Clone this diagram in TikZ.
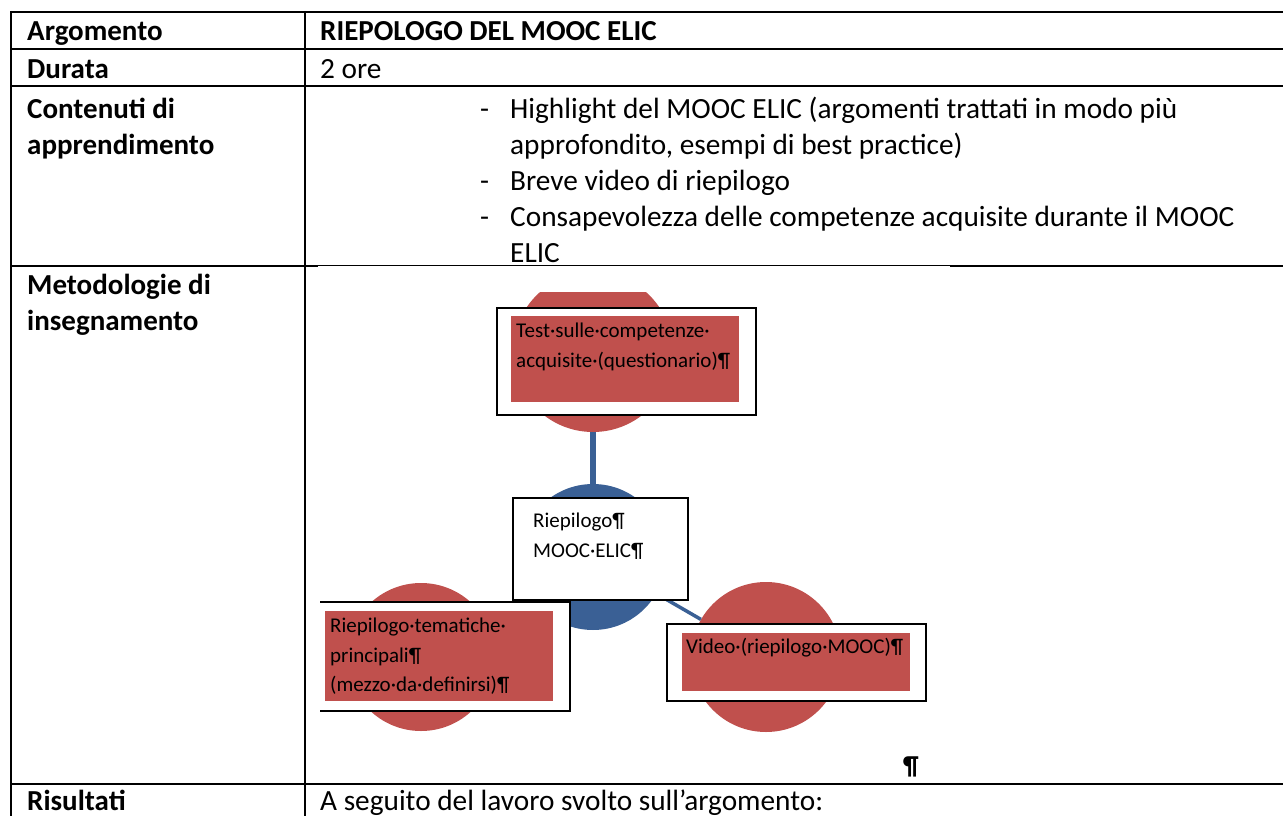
\documentclass[tikz,border=0pt]{standalone}
\usepackage{fontspec}
\setmainfont{Carlito}
\definecolor{accred}{HTML}{C0504D}
\definecolor{accblue}{HTML}{3A6095}
\begin{document}
\begin{tikzpicture}[x=1pt,y=-1pt,
  rule/.style={line width=2.2pt},
  cell/.style={anchor=base west, inner sep=0pt, font=\fontsize{29.3}{36}\selectfont},
  head/.style={anchor=base west, inner sep=0pt, font=\fontsize{29}{36}\selectfont\bfseries},
  bubble/.style={circle, fill=accred, inner sep=0pt, minimum size=150pt},
  hub/.style={circle, fill=accblue, inner sep=0pt, minimum size=146pt},
  link/.style={draw=accblue, line width=6.5pt},
  thinlink/.style={draw=accblue, line width=3.5pt},
  frame/.style={draw=black, line width=2pt, fill=white, inner sep=0pt, anchor=north west},
  patch/.style={fill=accred, inner sep=0pt, anchor=north west},
  dia/.style={anchor=base west, inner sep=0pt, font=\fontsize{21}{30}\selectfont, text=black},
]
\useasboundingbox (0,0) rectangle (1283,816);

% ---------- table rules ----------
\draw[rule] (11,12) -- (1283,12);
\draw[rule] (11,49) -- (1283,49);
\draw[rule] (11,86) -- (1283,86);
\draw[rule] (11,266) -- (318,266);
\draw[line width=1.4pt] (318,265.5) -- (950,265.5);
\draw[rule] (950,266) -- (1283,266);
\draw[rule] (11,784) -- (1283,784);
\draw[rule] (11,11) -- (11,816);
\draw[rule] (305,11) -- (305,816);

% ---------- left column ----------
\node[head] (hArg) at (27,41) {Argomento};
\node[head] (hDur) at (27,78) {Durata};
\node[head] (hCon1) at (27,118) {Contenuti di};
\node[head] (hCon2) at (27,154) {apprendimento};
\node[head] (hMet1) at (27,294) {Metodologie di};
\node[head] (hMet2) at (27,330) {insegnamento};
\node[head] (hRis) at (27,810) {Risultati};

% ---------- right column ----------
\node[head] (vArg) at (320,41) {RIEPOLOGO DEL MOOC ELIC};
\node[cell] (vDur) at (320,78) {2 ore};
\node[cell] (d1) at (480,118) {-};
\node[cell] (l1) at (510,118) {Highlight del MOOC ELIC (argomenti trattati in modo più};
\node[cell] (l1b) at (510,154) {approfondito, esempi di best practice)};
\node[cell] (d2) at (480,190) {-};
\node[cell] (l2) at (510,190) {Breve video di riepilogo};
\node[cell] (d3) at (480,226) {-};
\node[cell] (l3) at (510,226) {Consapevolezza delle competenze acquisite durante il MOOC};
\node[cell] (l3b) at (510,262) {ELIC};
\node[cell] (vRis) at (320,810) {A seguito del lavoro svolto sull’argomento:};
\node[anchor=base west, inner sep=0pt, font=\fontsize{26}{30}\selectfont\bfseries] (pil) at (903,774) {¶};

% ---------- diagram ----------
\begin{scope}
\clip (320,292) rectangle (1000,783);
\node[bubble, minimum size=160pt] (topc) at (593,352) {};
\node[hub] (midc) at (593,557) {};
\node[bubble, minimum size=148pt] (lc) at (421,657) {};
\node[bubble] (rc) at (766,657) {};

\draw[link] (topc) -- (midc);
\draw[thinlink] (midc.center) -- (rc);

% top item
\node[frame, minimum width=259pt, minimum height=107pt] (topbox) at (496,307) {};
\node[patch, minimum width=228pt, minimum height=86pt] (topfill) at (511,316) {};
\node[dia] (topt1) at (516,337) {Test·sulle·competenze·};
\node[dia] (topt2) at (516,367) {acquisite·(questionario)¶};

% centre item
\node[frame, minimum width=175pt, minimum height=102pt] (midbox) at (512,497) {};
\node[dia] (midt1) at (533,527) {Riepilogo¶};
\node[dia] (midt2) at (533,557) {MOOC·ELIC¶};

% left item
\node[frame, minimum width=259pt, minimum height=109pt] (leftbox) at (310,601) {};
\node[patch, minimum width=228pt, minimum height=90pt] (leftfill) at (325,611) {};
\node[dia] (leftt1) at (330,632) {Riepilogo·tematiche·};
\node[dia] (leftt2) at (330,662) {principali¶};
\node[dia] (leftt3) at (330,691) {(mezzo·da·definirsi)¶};

% right item
\node[frame, minimum width=259pt, minimum height=77pt] (rightbox) at (666,623) {};
\node[patch, minimum width=228pt, minimum height=58pt] (rightfill) at (682,633) {};
\node[dia] (rightt1) at (686,653) {Video·(riepilogo·MOOC)¶};
\end{scope}
\end{tikzpicture}
\end{document}
